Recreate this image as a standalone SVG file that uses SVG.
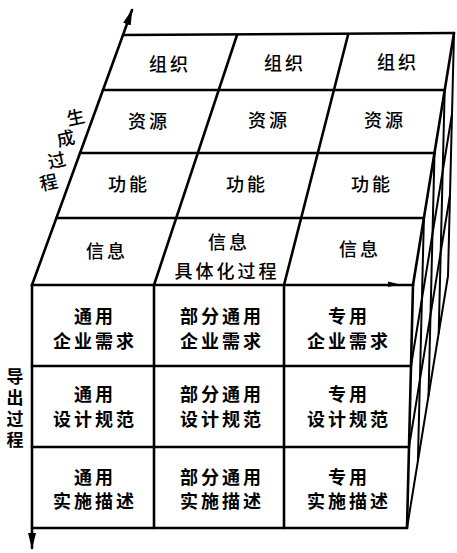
<svg xmlns="http://www.w3.org/2000/svg" width="457" height="553" viewBox="0 0 457 553">
<style>
.ln{stroke:#000;stroke-width:2.6;fill:none;stroke-linecap:round;stroke-linejoin:round}
.th{stroke:#000;stroke-width:2;fill:none;stroke-linecap:round}
.t{font-family:"Noto Sans CJK SC","Noto Sans",sans-serif;font-size:18px;fill:#000;text-anchor:middle;letter-spacing:3px;font-weight:500}
.f{font-weight:bold}
.lb{font-family:"Noto Sans CJK SC","Noto Sans",sans-serif;font-size:17px;fill:#000;font-weight:bold;writing-mode:vertical-rl;letter-spacing:4px}
.lt{font-family:"Noto Sans CJK SC","Noto Sans",sans-serif;font-size:18px;fill:#000;text-anchor:middle;font-weight:500}
</style>
<defs>
<marker id="ah" viewBox="0 0 16 8" refX="15" refY="4" markerWidth="16" markerHeight="8" markerUnits="userSpaceOnUse" orient="auto">
<path d="M0,0 L16,4 L0,8 Z" fill="#000"/>
</marker>
</defs>
<rect width="457" height="553" fill="#fff"/>
<g id="connectors">
<path class="ln" d="M123,35 L454,33"/>
<path class="ln" d="M103,90 L444.7,90"/>
<path class="ln" d="M80,153 L434.5,153"/>
<path class="ln" d="M56.4,218 L423.9,218"/>
<path class="ln" d="M32,285 L413,285"/>
<path class="ln" d="M154,285 L237,35"/>
<path class="ln" d="M284,285 L348,35"/>
<path class="ln" d="M413,285 L454,33"/>
<path class="ln" d="M32,285 L123,35 L132,10" marker-end="url(#ah)"/>
<path class="ln" d="M32,285 L32,548" marker-end="url(#ah)"/>
<path d="M388,281.5 L400,284.5 L388,287 Z" fill="#000"/>
<path class="ln" d="M32,366 L411,366"/>
<path class="ln" d="M32,447 L409,447"/>
<path class="ln" d="M32,528 L407,528"/>
<path class="ln" d="M154,285 L154,528"/>
<path class="ln" d="M284,285 L284,528"/>
<path class="ln" d="M413,285 L407,528"/>
<path class="th" d="M411,366 L452,114"/>
<path class="th" d="M409,447 L450,195"/>
<path class="th" d="M407,528 L448,276"/>
<path class="th" d="M454,33 L448,276"/>
<path class="th" d="M444.7,90 L438.7,333"/>
<path class="th" d="M434.5,153 L428.5,396"/>
<path class="th" d="M423.9,218 L417.9,461"/>
</g>
<g id="axis-labels">
<text class="lt" transform="translate(77,124) rotate(-12)">生</text>
<text class="lt" transform="translate(67,145) rotate(-12)">成</text>
<text class="lt" transform="translate(58,167) rotate(-12)">过</text>
<text class="lt" transform="translate(50,189) rotate(-12)">程</text>
<text class="lb" x="15" y="368">导出过程</text>
</g>
<g id="top-r1c1"><text class="t" x="170" y="71">组织</text></g>
<g id="top-r1c2"><text class="t" x="285" y="70">组织</text></g>
<g id="top-r1c3"><text class="t" x="398" y="69">组织</text></g>
<g id="top-r2c1"><text class="t" x="149" y="128">资源</text></g>
<g id="top-r2c2"><text class="t" x="269" y="127">资源</text></g>
<g id="top-r2c3"><text class="t" x="385" y="127">资源</text></g>
<g id="top-r3c1"><text class="t" x="129" y="191">功能</text></g>
<g id="top-r3c2"><text class="t" x="247" y="191">功能</text></g>
<g id="top-r3c3"><text class="t" x="372" y="191">功能</text></g>
<g id="top-r4c1"><text class="t" x="107" y="258">信息</text></g>
<g id="top-r4c2"><text class="t" x="229" y="249">信息</text><text class="t" x="227" y="278">具体化过程</text></g>
<g id="top-r4c3"><text class="t" x="360" y="256">信息</text></g>
<g id="front-r1c1"><text class="t f" x="95" y="323">通用</text><text class="t f" x="95" y="348">企业需求</text></g>
<g id="front-r1c2"><text class="t f" x="222" y="323">部分通用</text><text class="t f" x="222" y="348">企业需求</text></g>
<g id="front-r1c3"><text class="t f" x="349" y="323">专用</text><text class="t f" x="349" y="348">企业需求</text></g>
<g id="front-r2c1"><text class="t f" x="95" y="401">通用</text><text class="t f" x="95" y="426">设计规范</text></g>
<g id="front-r2c2"><text class="t f" x="222" y="401">部分通用</text><text class="t f" x="222" y="426">设计规范</text></g>
<g id="front-r2c3"><text class="t f" x="349" y="401">专用</text><text class="t f" x="349" y="426">设计规范</text></g>
<g id="front-r3c1"><text class="t f" x="95" y="484">通用</text><text class="t f" x="95" y="508">实施描述</text></g>
<g id="front-r3c2"><text class="t f" x="222" y="484">部分通用</text><text class="t f" x="222" y="508">实施描述</text></g>
<g id="front-r3c3"><text class="t f" x="349" y="484">专用</text><text class="t f" x="349" y="508">实施描述</text></g>
</svg>
